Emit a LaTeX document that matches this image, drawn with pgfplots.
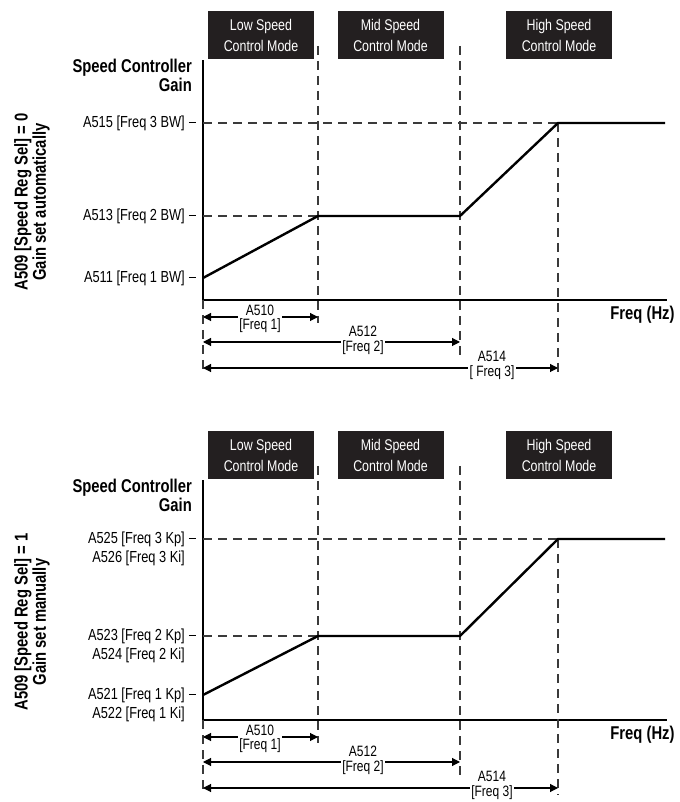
\documentclass[border=0pt]{standalone}
\usepackage{fontspec}
\setmainfont{Liberation Sans}[FakeStretch=0.8]
\usepackage{pgfplots}
\pgfplotsset{compat=1.18}
\usetikzlibrary{arrows.meta}
\definecolor{boxc}{HTML}{231F20}
\definecolor{guidec}{HTML}{3A3A3A}
\tikzset{
  modebox/.style={fill=boxc, text=white, minimum width=106bp, minimum height=48bp, align=center,
    font=\fontsize{15.5bp}{21bp}\selectfont, inner sep=0pt},
  guide/.style={draw=guidec, line width=1.1bp, dash pattern=on 9bp off 6bp},
  dim/.style={line width=1.1bp, {Triangle[length=8bp,width=8bp]}-{Triangle[length=8bp,width=8bp]}},
  dimlab/.style={fill=white, align=center, font=\fontsize{15bp}{14.5bp}\selectfont, inner sep=1.5bp},
  ticklab/.style={anchor=east, font=\fontsize{16bp}{16bp}\selectfont, inner sep=0pt},
  boldlab/.style={font=\bfseries\fontsize{18.5bp}{17bp}\selectfont, inner sep=0pt},
}
\pgfplotsset{panel/.style={
  scale only axis, width=464bp, height=240bp,
  xmin=0, xmax=464, ymin=0, ymax=240,
  axis x line=bottom, axis y line=left,
  axis line style={line width=2.6bp, -},
  xtick=\empty, ytick=\empty, clip=false,
}}
\begin{document}
\begin{tikzpicture}
\path (0,0) rectangle (680bp,802bp);
% ---------------- top panel ----------------
\begin{axis}[panel, at={(203bp,502bp)}, anchor=south west]
  % mode boxes
  \node[modebox] at (axis cs:58,265) {Low Speed\\Control Mode};
  \node[modebox] at (axis cs:187.5,265) {Mid Speed\\Control Mode};
  \node[modebox] at (axis cs:356,265) {High Speed\\Control Mode};
  % guides
  \draw[guide] (axis cs:115,254) -- (axis cs:115,-23);
  \draw[guide] (axis cs:257,254) -- (axis cs:257,-55);
  \draw[guide] (axis cs:355,177) -- (axis cs:355,-75);
  \draw[guide] (axis cs:0,0) -- (axis cs:0,-75);
  \draw[guide] (axis cs:0,177) -- (axis cs:355,177);
  \draw[guide] (axis cs:0,84) -- (axis cs:115,84);
  % gain curve
  \addplot[black, line width=2.4bp] coordinates {(0,22) (115,84) (257,84) (355,177) (462,177)};
  % y labels
  \node[ticklab] at (axis cs:-18,177) {A515 [Freq 3 BW]};
  \node[ticklab] at (axis cs:-18,84) {A513 [Freq 2 BW]};
  \node[ticklab] at (axis cs:-18,22) {A511 [Freq 1 BW]};
  \draw[line width=1bp] (axis cs:-14,177) -- (axis cs:-7,177);
  \draw[line width=1bp] (axis cs:-14,84) -- (axis cs:-7,84);
  \draw[line width=1bp] (axis cs:-14,22) -- (axis cs:-7,22);
  % dimension arrows
  \draw[dim] (axis cs:0,-17) -- (axis cs:115,-17);
  \node[dimlab] at (axis cs:57,-19) {A510\\{[}Freq 1{]}};
  \draw[dim] (axis cs:0,-42) -- (axis cs:257,-42);
  \node[dimlab] at (axis cs:160,-40.5) {A512\\{[}Freq 2{]}};
  \draw[dim] (axis cs:0,-68) -- (axis cs:355,-68);
  \node[dimlab] at (axis cs:289,-65.5) {A514\\{[} Freq 3{]}};
  % labels
  \node[boldlab] at (axis cs:439.5,-15) {Freq (Hz)};
  \node[boldlab, anchor=east] at (axis cs:-11,232) {Speed Controller};
  \node[boldlab, anchor=east] at (axis cs:-11,215) {Gain};
  \node[boldlab, rotate=90, align=center, font=\bfseries\fontsize{18.5bp}{14bp}\selectfont] at (axis cs:-171,98)
    {A509 [Speed Reg Sel] = 0\\Gain set automatically};
\end{axis}
% ---------------- bottom panel ----------------
\begin{axis}[panel, at={(203bp,82bp)}, anchor=south west]
  \node[modebox] at (axis cs:58,265) {Low Speed\\Control Mode};
  \node[modebox] at (axis cs:187.5,265) {Mid Speed\\Control Mode};
  \node[modebox] at (axis cs:356,265) {High Speed\\Control Mode};
  \draw[guide] (axis cs:115,254) -- (axis cs:115,-23);
  \draw[guide] (axis cs:257,254) -- (axis cs:257,-55);
  \draw[guide] (axis cs:355,181) -- (axis cs:355,-75);
  \draw[guide] (axis cs:0,0) -- (axis cs:0,-75);
  \draw[guide] (axis cs:0,181) -- (axis cs:355,181);
  \draw[guide] (axis cs:0,84) -- (axis cs:115,84);
  \addplot[black, line width=2.4bp] coordinates {(0,25) (115,84) (257,84) (355,181) (462,181)};
  \node[ticklab] at (axis cs:-18,181) {A525 [Freq 3 Kp]};
  \node[ticklab] at (axis cs:-18,162) {A526 [Freq 3 Ki]};
  \node[ticklab] at (axis cs:-18,84) {A523 [Freq 2 Kp]};
  \node[ticklab] at (axis cs:-18,65) {A524 [Freq 2 Ki]};
  \node[ticklab] at (axis cs:-18,25) {A521 [Freq 1 Kp]};
  \node[ticklab] at (axis cs:-18,6) {A522 [Freq 1 Ki]};
  \draw[line width=1bp] (axis cs:-14,181) -- (axis cs:-7,181);
  \draw[line width=1bp] (axis cs:-14,84) -- (axis cs:-7,84);
  \draw[line width=1bp] (axis cs:-14,25) -- (axis cs:-7,25);
  \draw[dim] (axis cs:0,-17) -- (axis cs:115,-17);
  \node[dimlab] at (axis cs:57,-19) {A510\\{[}Freq 1{]}};
  \draw[dim] (axis cs:0,-42) -- (axis cs:257,-42);
  \node[dimlab] at (axis cs:160,-40.5) {A512\\{[}Freq 2{]}};
  \draw[dim] (axis cs:0,-68) -- (axis cs:355,-68);
  \node[dimlab] at (axis cs:289,-65.5) {A514\\{[}Freq 3{]}};
  \node[boldlab] at (axis cs:439.5,-15) {Freq (Hz)};
  \node[boldlab, anchor=east] at (axis cs:-11,232) {Speed Controller};
  \node[boldlab, anchor=east] at (axis cs:-11,215) {Gain};
  \node[boldlab, rotate=90, align=center, font=\bfseries\fontsize{18.5bp}{14bp}\selectfont] at (axis cs:-171,98)
    {A509 [Speed Reg Sel] = 1\\Gain set manually};
\end{axis}
\end{tikzpicture}
\end{document}
